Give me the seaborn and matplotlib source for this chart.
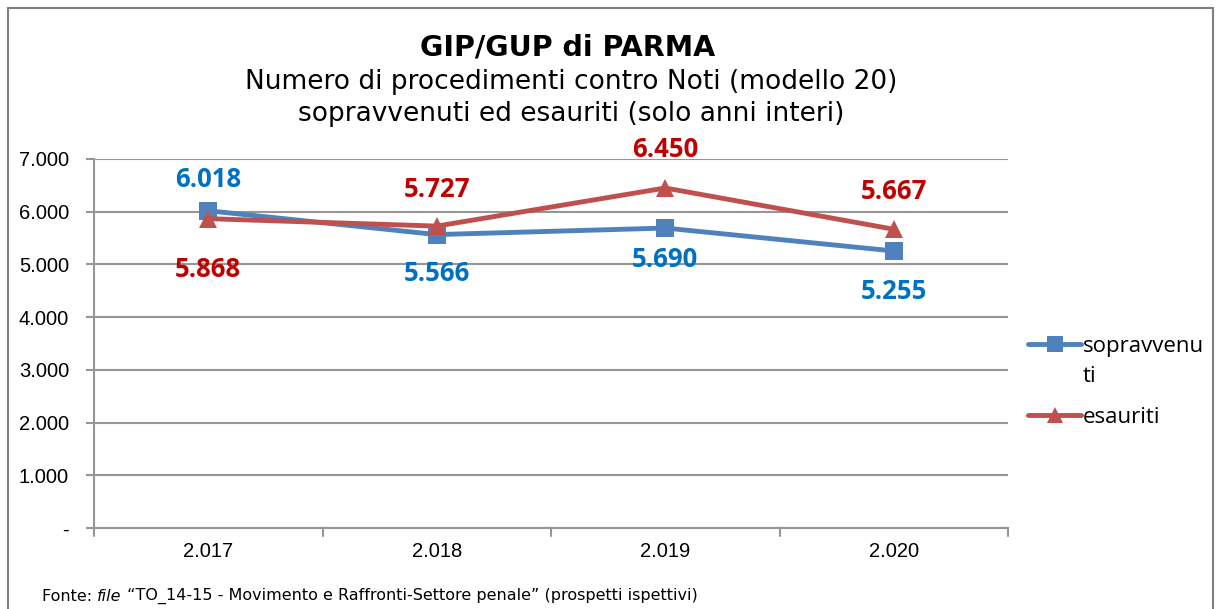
import pandas as pd
import matplotlib.pyplot as plt
import seaborn as sns
from matplotlib.patches import Rectangle
from matplotlib.lines import Line2D

# data
anni = ["2.017", "2.018", "2.019", "2.020"]
sopravvenuti = [6018, 5566, 5690, 5255]
esauriti = [5868, 5727, 6450, 5667]
y_ticks = [0, 1000, 2000, 3000, 4000, 5000, 6000, 7000]
y_labels = ["-", "1.000", "2.000", "3.000", "4.000", "5.000", "6.000", "7.000"]

# label offsets (pixels from the point), as Excel placed them
off_sopr = [31, -39, -31, -41]
off_esau = [-51, 37, 38, 38]

blu = "#4F81BD"
rosso = "#C0504D"
blu_txt = "#0070C0"
rosso_txt = "#C00000"
grigio = "#969696"

df = pd.DataFrame({
    "x": list(range(len(anni))) * 2,
    "valore": sopravvenuti + esauriti,
    "serie": ["sopravvenuti"] * len(anni) + ["esauriti"] * len(anni),
})

sns.set_style("white")
plt.rcParams["font.family"] = ["Liberation Sans", "DejaVu Sans"]
plt.rcParams["text.color"] = "black"
plt.rcParams["xtick.color"] = "black"
plt.rcParams["ytick.color"] = "black"

fig = plt.figure(figsize=(12.2, 6.09), dpi=100)
ax = fig.add_axes([94 / 1220, 1 - 528 / 609, 914 / 1220, 369 / 609])

sns.lineplot(data=df, x="x", y="valore", hue="serie", style="serie",
             palette={"sopravvenuti": blu, "esauriti": rosso},
             markers={"sopravvenuti": "s", "esauriti": "^"}, dashes=False,
             markersize=13, linewidth=3.5, markeredgewidth=0, ax=ax, legend=False,
             zorder=3)

ax.set_xlim(-0.5, len(anni) - 0.5)
ax.set_ylim(0, 7000)
ax.set_yticks(y_ticks)
ax.set_yticklabels(y_labels, fontsize=14.5)
ax.set_xticks(range(len(anni)))
ax.set_xticklabels(anni, fontsize=14.5)
ax.tick_params(axis="x", length=0, pad=10, labelcolor="black")
ax.tick_params(axis="y", length=6, color=grigio, width=1.5, pad=12, direction="out",
               left=True, labelcolor="black")
ax.set_xlabel("")
ax.set_ylabel("")
ax.grid(axis="y", color=grigio, linewidth=1.5)
ax.set_axisbelow(True)
for s in ["top", "right"]:
    ax.spines[s].set_visible(False)
for s in ["left", "bottom"]:
    ax.spines[s].set_color(grigio)
    ax.spines[s].set_linewidth(1.5)

# category boundary ticks on the x axis
for b in [i - 0.5 for i in range(len(anni) + 1)]:
    ax.plot([b, b], [0, -150], color=grigio, linewidth=1.5, clip_on=False)

# data labels
lab_font = ["Open Sans", "DejaVu Sans"]
for i in range(len(anni)):
    for val, off, col in [(sopravvenuti[i], off_sopr[i], blu_txt),
                          (esauriti[i], off_esau[i], rosso_txt)]:
        ax.annotate(f"{val / 1000:.3f}", (i, val), xytext=(0, off),
                    textcoords="offset pixels", ha="center", va="center",
                    color=col, fontsize=18.5, fontweight="bold", family=lab_font,
                    annotation_clip=False)

# titles
fig.text(0.465, 1 - 47 / 609, "GIP/GUP di PARMA", ha="center", va="center",
         fontsize=20.5, fontweight="bold", family="DejaVu Sans")
fig.text(0.468, 1 - 82 / 609, "Numero di procedimenti contro Noti (modello 20)",
         ha="center", va="center", fontsize=19, family="DejaVu Sans")
fig.text(0.468, 1 - 114 / 609, "sopravvenuti ed esauriti (solo anni interi)",
         ha="center", va="center", fontsize=19, family="DejaVu Sans")

# legend (the wrapped "ti" is added underneath the first label)
handles = [
    Line2D([], [], color=blu, marker="s", markersize=12, linewidth=3.5, markeredgewidth=0),
    Line2D([], [], color=rosso, marker="^", markersize=12, linewidth=3.5, markeredgewidth=0),
]
leg = fig.legend(handles, ["sopravvenu", "esauriti"], loc="upper left",
                 bbox_to_anchor=(1008 / 1220, 1 - 316 / 609), frameon=False,
                 handlelength=2.4, handletextpad=0.05, labelspacing=2.25,
                 prop={"family": lab_font, "size": 16})
fig.text(1083 / 1220, 1 - 376 / 609, "ti", ha="left", va="center",
         fontsize=16, family=lab_font)

# footnote, built piece by piece so the italic word sits in line
fy = 1 - 601 / 609
t1 = fig.text(42 / 1220, fy, "Fonte: ", fontsize=11.5, va="baseline", family="DejaVu Sans")
t2 = ax.annotate("file", xy=(1, 0), xycoords=t1, va="bottom", ha="left",
                 fontsize=11.5, style="italic", family="DejaVu Sans", annotation_clip=False)
ax.annotate(" \u201cTO_14-15 - Movimento e Raffronti-Settore penale\u201d (prospetti ispettivi)",
            xy=(1, 0), xycoords=t2, va="bottom", ha="left",
            fontsize=11.5, family="DejaVu Sans", annotation_clip=False)

# outer frame
fig.patches.append(Rectangle((8 / 1220, -0.1), 1205 / 1220, 1.1 - 8 / 609,
                             transform=fig.transFigure, fill=False,
                             edgecolor="#7F7F7F", linewidth=1.5))

fig.savefig("out.png", dpi=100)
